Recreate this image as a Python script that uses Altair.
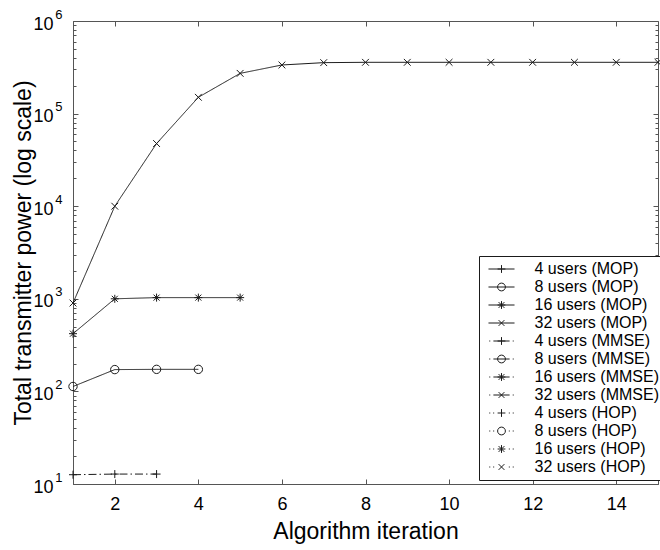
import altair as alt
import pandas as pd

# ---------------- data ----------------
iter_32 = list(range(1, 16))
power_32 = [900, 10000, 47500, 150000, 272000, 335000, 355000, 358000,
            358000, 358000, 358000, 358000, 358000, 358000, 358000]
iter_16 = [1, 2, 3, 4, 5]
power_16 = [420, 1000, 1030, 1030, 1030]
iter_8 = [1, 2, 3, 4]
power_8 = [113, 172, 173, 173]
iter_4 = [1, 2, 3]
power_4 = [12.6, 12.8, 12.8]

user_groups = ["4 users", "8 users", "16 users", "32 users"]
methods = ["MOP", "MMSE", "HOP"]
legend_names = [f"{u} ({m})" for m in methods for u in user_groups]

x_ticks = [2, 4, 6, 8, 10, 12, 14]
y_major = [10, 100, 1000, 10000, 100000, 1000000]
y_minor = [k * 10 ** e for e in range(1, 6) for k in range(2, 10)]

rows = []
for it, pw, users, method in [
    (iter_32, power_32, "32 users", "MOP"),
    (iter_16, power_16, "16 users", "MOP"),
    (iter_8, power_8, "8 users", "MOP"),
    (iter_4, power_4, "4 users", "MMSE"),
]:
    for a, b in zip(it, pw):
        rows.append({"iteration": a, "power": b, "users": users,
                     "method": method, "series": f"{users} ({method})"})
df = pd.DataFrame(rows)

# ---------------- styles ----------------
FONT = "Liberation Sans"
INK = "#1a1a1a"
FRAME = "#555555"
W, H = 585, 463

x_scale = alt.Scale(domain=[1, 15], nice=False, zero=False)
y_scale = alt.Scale(type="log", domain=[10, 1000000], nice=False)

# marker paths for the plot (unit = 4 px at size 64)
marker_paths = [
    "M-1,0H1M0,-1V1",                                   # plus
    "M1.05,0A1.05,1.05,0,1,1,-1.05,0A1.05,1.05,0,1,1,1.05,0Z",  # circle
    "M-1,0H1M0,-1V1M-0.75,-0.75L0.75,0.75M-0.75,0.75L0.75,-0.75",  # asterisk
    "M-0.85,-0.85L0.85,0.85M-0.85,0.85L0.85,-0.85",     # x
]

# legend symbol paths (unit = 6 px at size 144; symbol is 26 px wide)
leg_marks = [
    "M-0.65,0H0.65M0,-0.65V0.65",
    "M0.65,0A0.65,0.65,0,1,1,-0.65,0A0.65,0.65,0,1,1,0.65,0Z",
    "M-0.65,0H0.65M0,-0.65V0.65M-0.48,-0.48L0.48,0.48M-0.48,0.48L0.48,-0.48",
    "M-0.48,-0.48L0.48,0.48M-0.48,0.48L0.48,-0.48",
]
leg_lines = {
    "MOP": "M-2.17,0H2.17",
    "MMSE": "M-2.04,0H-1.87M-1.35,0H1.35M1.87,0H2.04",
    "HOP": "M-2.04,0H-1.87M-1.39,0H-1.22M1.22,0H1.39M1.87,0H2.04",
}
legend_paths = [leg_lines[m] + mk for m in methods for mk in leg_marks]

is_major = "abs(log(datum.value)/LN10 - round(log(datum.value)/LN10)) < 0.000001"
exp_expr = "format(round(log(datum.value)/LN10), 'd')"

base = alt.Chart(df)

# ---- main lines with labelled axes ("10" part of the y labels) ----
lines = base.mark_line(strokeWidth=1, color=INK).encode(
    x=alt.X("iteration:Q", scale=x_scale,
            axis=alt.Axis(orient="bottom", values=x_ticks, ticks=False, tickSize=0,
                          grid=False, domainColor=FRAME, labelFont=FONT,
                          labelFontSize=18, labelColor="black", labelPadding=11,
                          title="Algorithm iteration", titleFont=FONT,
                          titleFontSize=23, titleFontWeight="normal",
                          titleColor="black", titlePadding=7)),
    y=alt.Y("power:Q", scale=y_scale,
            axis=alt.Axis(orient="left", values=y_major, ticks=False, tickSize=0,
                          grid=False, domainColor=FRAME, labelFont=FONT,
                          labelFontSize=18, labelColor="black", labelPadding=20,
                          labelOffset=3, labelExpr="'10'",
                          title="Total transmitter power (log scale)",
                          titleFont=FONT, titleFontSize=23,
                          titleFontWeight="normal", titleColor="black",
                          titlePadding=-3)),
    detail="series:N",
    strokeDash=alt.StrokeDash("method:N",
                              scale=alt.Scale(domain=methods,
                                              range=[[1, 0], [8, 3, 1.5, 3], [1, 3]]),
                              legend=None),
)

# ---- markers ----
points = base.mark_point(filled=False, size=64, color=INK, strokeWidth=1, opacity=1).encode(
    x=alt.X("iteration:Q", scale=x_scale, axis=None),
    y=alt.Y("power:Q", scale=y_scale, axis=None),
    shape=alt.Shape("users:N",
                    scale=alt.Scale(domain=user_groups, range=marker_paths),
                    legend=None),
)

# ---- legend (invisible marks, domain lists every series) ----
legend_layer = base.mark_point(
    filled=False, size=144, color=INK, strokeWidth=1, opacity=0).encode(
    x=alt.X("iteration:Q", scale=x_scale, axis=None),
    y=alt.Y("power:Q", scale=y_scale, axis=None),
    shape=alt.Shape("series:N",
                    scale=alt.Scale(domain=legend_names, range=legend_paths),
                    legend=alt.Legend(title=None, orient="none", legendX=406,
                                      legendY=235, direction="vertical",
                                      fillColor="white", strokeColor=INK,
                                      padding=5, labelFont=FONT,
                                      labelFontSize=16, labelColor="black",
                                      symbolOffset=9.5, labelOffset=25,
                                      rowPadding=2,
                                      symbolSize=144, symbolStrokeWidth=1,
                                      symbolStrokeColor=INK, symbolOpacity=1,
                                      symbolFillColor="transparent",
                                      labelLimit=0)),
)

empty = base.transform_filter("false").mark_point(opacity=0)

# ---- exponent part of the y labels ----
exponents = empty.encode(
    x=alt.X("iteration:Q", scale=x_scale, axis=None),
    y=alt.Y("power:Q", scale=y_scale,
            axis=alt.Axis(orient="left", values=y_major, ticks=False, tickSize=0,
                          domain=False, grid=False, labelFont=FONT,
                          labelFontSize=13, labelColor="black", labelPadding=11,
                          labelOffset=-7, labelExpr=exp_expr, title=None)))

# ---- inward tick axes on all four sides ----
def tick_axis(orient, offset, values, channel):
    ax = alt.Axis(orient=orient, offset=offset, values=values, labels=False,
                  title=None, grid=False, domainColor=FRAME, tickColor=FRAME,
                  tickWidth=1,
                  tickSize=alt.ConditionalAxisNumber(condition={"test": is_major, "value": 5}, value=3)
                  if channel == "y" else 5)
    return ax

top_ticks = empty.encode(
    x=alt.X("iteration:Q", scale=x_scale, axis=tick_axis("bottom", -H, x_ticks, "x")),
    y=alt.Y("power:Q", scale=y_scale, axis=None))
bottom_ticks = empty.encode(
    x=alt.X("iteration:Q", scale=x_scale, axis=tick_axis("top", -H, x_ticks, "x")),
    y=alt.Y("power:Q", scale=y_scale, axis=None))
left_ticks = empty.encode(
    x=alt.X("iteration:Q", scale=x_scale, axis=None),
    y=alt.Y("power:Q", scale=y_scale, axis=tick_axis("right", -W, y_major + y_minor, "y")))
right_ticks = empty.encode(
    x=alt.X("iteration:Q", scale=x_scale, axis=None),
    y=alt.Y("power:Q", scale=y_scale, axis=tick_axis("left", -W, y_major + y_minor, "y")))

chart = alt.layer(
    top_ticks, bottom_ticks, left_ticks, right_ticks, exponents,
    lines, points, legend_layer
).resolve_axis(x="independent", y="independent").resolve_scale(
    shape="independent").resolve_legend(shape="independent").properties(
    width=W, height=H,
    autosize=alt.AutoSizeParams(type="none"),
    padding={"left": 73, "top": 21, "right": 2, "bottom": 66},
    background="white",
).configure_view(stroke=None)

chart.save("out.html", embed_options={"renderer": "svg", "actions": False})
